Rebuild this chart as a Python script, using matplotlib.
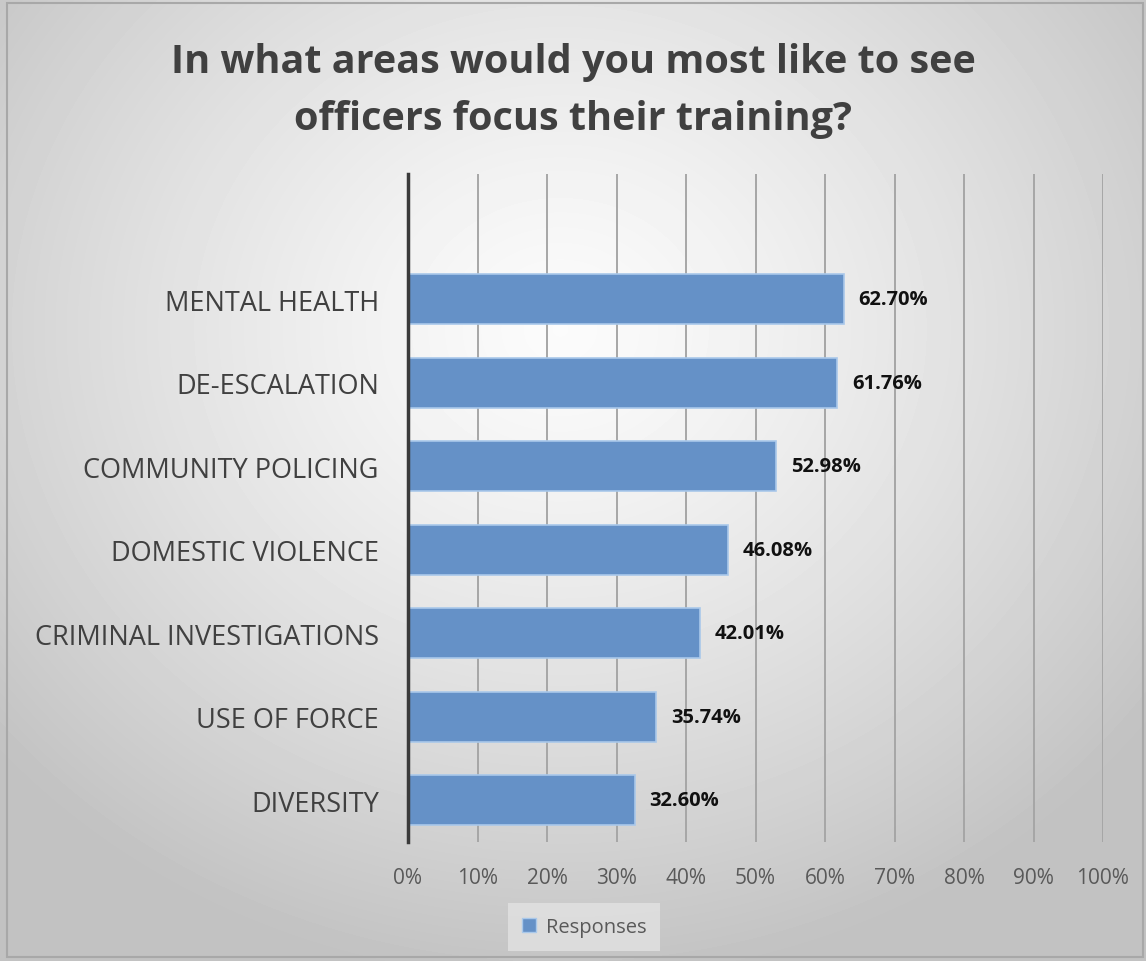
import numpy as np
import matplotlib
matplotlib.use("Agg")
import matplotlib.pyplot as plt
from matplotlib.patches import Rectangle, Patch

# Survey results, bottom to top
categories = ["DIVERSITY", "USE OF FORCE", "CRIMINAL INVESTIGATIONS",
              "DOMESTIC VIOLENCE", "COMMUNITY POLICING", "DE-ESCALATION",
              "MENTAL HEALTH"]
responses = [32.60, 35.74, 42.01, 46.08, 52.98, 61.76, 62.70]
xticks = [0, 10, 20, 30, 40, 50, 60, 70, 80, 90, 100]

plt.rcParams["font.family"] = ["Open Sans", "DejaVu Sans"]

fig = plt.figure(figsize=(11.46, 9.62), dpi=100)

# radial gradient background
bg = fig.add_axes([0, 0, 1, 1], zorder=-10)
yy, xx = np.mgrid[0:962, 0:1146]
r = np.sqrt(((xx - 560) / 700.0) ** 2 + ((yy - 330) / 620.0) ** 2)
shade = np.clip(0.985 - 0.21 * r ** 1.3, 0.76, 1.0)
bg.imshow(shade, cmap="gray", vmin=0, vmax=1, aspect="auto",
          extent=[0, 1146, 962, 0])
bg.add_patch(Rectangle((7, 4), 1136, 954, fill=False, edgecolor="#a8a8a8", lw=1.5))
bg.set_xlim(0, 1146)
bg.set_ylim(962, 0)
bg.axis("off")

ax = fig.add_axes([408 / 1146, 1 - 843 / 962, 695 / 1146, 668 / 962])
ax.patch.set_alpha(0)

bar_color = "#6591c7"
y = np.arange(len(categories))
ax.barh(y, responses, height=0.6, color=bar_color, edgecolor="#a9c8ea",
        linewidth=1.2, zorder=3)
for yi, v in zip(y, responses):
    ax.text(v + 2.1, yi, f"{v:.2f}%", va="center", ha="left",
            fontsize=14.5, fontweight="bold", color="#111111")

ax.set_xlim(0, 100)
ax.set_ylim(-0.5, len(categories) + 0.5)
ax.set_xticks(xticks)
ax.set_xticklabels([f"{t}%" for t in xticks], fontsize=15, color="#595959")
ax.set_yticks(y)
ax.set_yticklabels(categories, fontsize=19.5, color="#404040")
ax.tick_params(axis="both", length=0)
ax.tick_params(axis="x", pad=18)
ax.tick_params(axis="y", pad=21)
ax.grid(axis="x", color="#a6a6a6", lw=1.4, zorder=1)
for s in ["top", "right", "bottom"]:
    ax.spines[s].set_visible(False)
ax.spines["left"].set_color("#3a3a3a")
ax.spines["left"].set_linewidth(2.5)
ax.spines["left"].set_zorder(4)

fig.text(0.5, 1 - 91 / 962, "In what areas would you most like to see\nofficers focus their training?",
         ha="center", va="center", fontsize=28.5, fontweight="bold",
         color="#404040", linespacing=1.6)

handle = Patch(facecolor=bar_color, edgecolor="#a9c8ea")
leg = fig.legend([handle], ["Responses"], loc="center",
                 bbox_to_anchor=(584 / 1146, 1 - 928 / 962),
                 frameon=True, fontsize=14.5, handlelength=0.7, handleheight=0.7,
                 handletextpad=0.5, borderpad=0.7, fancybox=False)
leg.get_frame().set_facecolor("#e2e2e2")
leg.get_frame().set_edgecolor("none")
for t in leg.get_texts():
    t.set_color("#595959")

fig.savefig("out.png", dpi=100)
